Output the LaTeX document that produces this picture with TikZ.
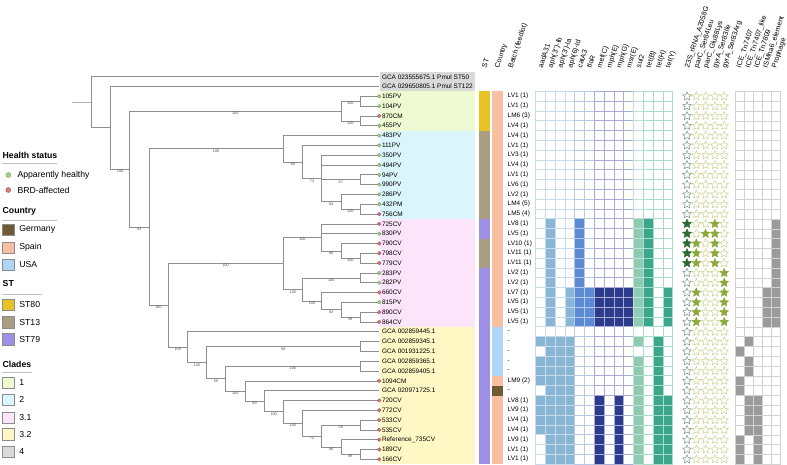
\documentclass[tikz,border=0pt]{standalone}
\usepackage{fontspec}
\setmainfont{Liberation Sans}
\usetikzlibrary{shapes.geometric}

% colours
\definecolor{branchgray}{HTML}{8E8E8E}
\definecolor{healthyfill}{HTML}{A9D18E}
\definecolor{healthyline}{HTML}{6E9E5C}
\definecolor{brdfill}{HTML}{D9797B}
\definecolor{brdline}{HTML}{A85458}
\definecolor{cladeone}{HTML}{EFFAD3}
\definecolor{cladetwo}{HTML}{DAF5FC}
\definecolor{cladethreeone}{HTML}{FCE4FA}
\definecolor{cladethreetwo}{HTML}{FFF8C5}
\definecolor{cladefour}{HTML}{DADADA}
\definecolor{germany}{HTML}{6E5A34}
\definecolor{spain}{HTML}{F9BFA2}
\definecolor{usa}{HTML}{AED6F6}
\definecolor{steighty}{HTML}{E8C325}
\definecolor{stthirteen}{HTML}{AA9D83}
\definecolor{stseventynine}{HTML}{9E90E6}
\definecolor{aphfill}{HTML}{8AB6D6}
\definecolor{aphline}{HTML}{C6DBEC}
\definecolor{catfill}{HTML}{5B8CD3}
\definecolor{catline}{HTML}{B7C9E8}
\definecolor{macfill}{HTML}{2C3B8B}
\definecolor{macline}{HTML}{A9ADD5}
\definecolor{sulfill}{HTML}{8ECBB2}
\definecolor{sulline}{HTML}{BEE3D5}
\definecolor{tetfill}{HTML}{3CA68B}
\definecolor{tetline}{HTML}{A8DCCB}
\definecolor{mutdark}{HTML}{2F6B30}
\definecolor{mutdarkline}{HTML}{6F8E7A}
\definecolor{mutfill}{HTML}{8CA93B}
\definecolor{mutline}{HTML}{C7D088}
\definecolor{mgefill}{HTML}{9B9B9B}
\definecolor{mgeline}{HTML}{D2D2D2}

% one colour per heatmap column
\colorlet{gene1}{aphfill}  \colorlet{line1}{aphline}
\colorlet{gene2}{aphfill}  \colorlet{line2}{aphline}
\colorlet{gene3}{aphfill}  \colorlet{line3}{aphline}
\colorlet{gene4}{aphfill}  \colorlet{line4}{aphline}
\colorlet{gene5}{catfill}  \colorlet{line5}{catline}
\colorlet{gene6}{catfill}  \colorlet{line6}{catline}
\colorlet{gene7}{macfill}  \colorlet{line7}{macline}
\colorlet{gene8}{macfill}  \colorlet{line8}{macline}
\colorlet{gene9}{macfill}  \colorlet{line9}{macline}
\colorlet{gene10}{macfill} \colorlet{line10}{macline}
\colorlet{gene11}{sulfill} \colorlet{line11}{sulline}
\colorlet{gene12}{tetfill} \colorlet{line12}{tetline}
\colorlet{gene13}{tetfill} \colorlet{line13}{tetline}
\colorlet{gene14}{tetfill} \colorlet{line14}{tetline}
\colorlet{mut1}{mutdark}   \colorlet{mutedge1}{mutdarkline}
\colorlet{mut2}{mutfill}   \colorlet{mutedge2}{mutline}
\colorlet{mut3}{mutfill}   \colorlet{mutedge3}{mutline}
\colorlet{mut4}{mutfill}   \colorlet{mutedge4}{mutline}
\colorlet{mut5}{mutfill}   \colorlet{mutedge5}{mutline}

\tikzset{
  branch/.style   = {draw = branchgray, line width = 0.6pt},
  rootstub/.style = {draw = black!30, line width = 1pt},
  boot/.style     = {anchor = north, inner sep = 0.6pt, text = black!70,
                     font = \fontsize{3.8}{4}\selectfont},
  tiplabel/.style = {anchor = west, inner sep = 0pt, font = \fontsize{6.45}{7}\selectfont},
  colhead/.style  = {rotate = 72, anchor = base west, inner sep = 0pt,
                     font = \fontsize{7.1}{8}\selectfont},
  healthy/.style  = {shape = circle, draw = healthyline, fill = healthyfill,
                     line width = 0.4pt, inner sep = 0pt, minimum size = 3.6pt},
  brd/.style      = {shape = circle, draw = brdline, fill = brdfill,
                     line width = 0.4pt, inner sep = 0pt, minimum size = 3.6pt},
  cell/.style     = {line width = 0.9pt},
  mutstar/.style  = {shape = star, star points = 5, star point ratio = 2.2,
                     minimum size = 9pt, inner sep = 0pt, line width = 0.45pt},
  legtitle/.style = {anchor = west, inner sep = 0pt, font = \bfseries\fontsize{8.7}{10}\selectfont},
  legtext/.style  = {anchor = west, inner sep = 0pt, font = \fontsize{8.7}{10}\selectfont},
  legbox/.style   = {draw = black!45, line width = 0.4pt, minimum size = 11.5pt, inner sep = 0pt},
  legrule/.style  = {draw = black!25, line width = 0.6pt},
}

\begin{document}
\begin{tikzpicture}[x = 1pt, y = -1pt,
    declare function = {ry(\i) = 76.7 + (\i - 1)*9.81;}]
  \useasboundingbox (0, 0) rectangle (787, 465);

  % ------------------------------------------------------------------------
  % Clade shading
  \foreach \a/\b/\c in {1/2/cladefour, 3/6/cladeone, 7/15/cladetwo,
                        16/26/cladethreeone, 27/40/cladethreetwo}
    \fill[\c] (380, {ry(\a) - 4.9}) rectangle (474.5, {ry(\b) + 4.9});

  % ------------------------------------------------------------------------
  % Tree
  \foreach \i in {1,...,40}
    \coordinate (t\i) at (379.2, {ry(\i)});

  \coordinate (stub) at ( 72.0, 102.24);
  \coordinate (r)    at ( 91.35, 102.24);
  \coordinate (n2)   at (110.5, 127.77);
  \coordinate (n3)   at (129.7, 169.03);
  \coordinate (c1)   at (340.8, 111.04);
  \coordinate (a1)   at (360.0, 101.23);
  \coordinate (a2)   at (360.0, 120.85);
  \coordinate (n4)   at (149.0, 227.01);
  \coordinate (c2)   at (283.25, 148.74);
  \coordinate (b5)   at (302.4, 161.93);
  \coordinate (b4)   at (321.6, 178.48);
  \coordinate (b1)   at (360.0, 179.71);
  \coordinate (b3)   at (340.8, 201.78);
  \coordinate (b2)   at (360.0, 209.14);
  \coordinate (n5)   at (168.1, 305.27);
  \coordinate (c31)  at (283.25, 263.40);
  \coordinate (d3)   at (321.6, 237.34);
  \coordinate (d2)   at (340.8, 250.83);
  \coordinate (d1)   at (360.0, 258.19);
  \coordinate (e5)   at (302.4, 289.46);
  \coordinate (e1)   at (360.0, 277.81);
  \coordinate (e4)   at (321.6, 301.11);
  \coordinate (e3)   at (340.8, 309.69);
  \coordinate (e2)   at (360.0, 317.05);
  \coordinate (f11)  at (187.3, 347.14);
  \coordinate (f10)  at (206.5, 362.51);
  \coordinate (g2)   at (360.0, 346.48);
  \coordinate (f9)   at (225.7, 378.55);
  \coordinate (g1)   at (360.0, 366.10);
  \coordinate (f8)   at (244.9, 391.00);
  \coordinate (f7)   at (264.1, 401.20);
  \coordinate (f6)   at (283.25, 411.77);
  \coordinate (f5)   at (302.4, 423.12);
  \coordinate (f4)   at (321.6, 435.99);
  \coordinate (f3)   at (360.0, 424.96);
  \coordinate (f2)   at (340.8, 447.03);
  \coordinate (f1)   at (360.0, 454.39);

  \draw[rootstub] (stub) -- (r);

  \foreach \p/\c in {r/t1, r/n2, n2/t2, a1/t3, a1/t4, a2/t5, a2/t6, c2/t7, b5/t8,
                     b4/t9, b4/t10, b1/t11, b1/t12, b3/t13, b2/t14, b2/t15,
                     d3/t16, d3/t17, d2/t18, d1/t19, d1/t20, e1/t21, e1/t22,
                     e4/t23, e3/t24, e2/t25, e2/t26, f11/t27, g2/t28, g2/t29,
                     g1/t30, g1/t31, f8/t32, f7/t33, f6/t34, f5/t35, f3/t36,
                     f3/t37, f2/t38, f1/t39, f1/t40}
    \draw[branch] (\p) |- (\c);

  \foreach \p/\c/\b in {n2/n3/100, n3/c1/100, n3/n4/83, c1/a1/100, c1/a2/100,
                        n4/c2/100, n4/n5/100, c2/b5/98, b5/b4/73, b4/b1/67,
                        b4/b3/84, b3/b2/100, n5/c31/100, n5/f11/100, c31/d3/100,
                        c31/e5/100, d3/d2/80, d2/d1/100, e5/e1/100, e5/e4/100,
                        e4/e3/92, e3/e2/98, f11/f10/100, f10/g2/56, f10/f9/56,
                        f9/g1/100, f9/f8/100, f8/f7/99, f7/f6/100, f6/f5/100,
                        f5/f4/72, f4/f3/58, f4/f2/96, f2/f1/98}
    \draw[branch] (\p) |- (\c) node[boot, pos = 0.75] {\b};

  % ------------------------------------------------------------------------
  % Tips
  \foreach \i/\lab in {1/GCA 023555675.1 Pmul ST50, 2/GCA 029650805.1 Pmul ST122,
      3/105PV, 4/104PV, 5/870CM, 6/455PV, 7/483PV, 8/111PV, 9/350PV, 10/494PV,
      11/94PV, 12/990PV, 13/286PV, 14/432PM, 15/756CM, 16/725CV, 17/830PV,
      18/790CV, 19/798CV, 20/779CV, 21/283PV, 22/282PV, 23/660CV, 24/815PV,
      25/890CV, 26/864CV, 27/GCA 002859445.1, 28/GCA 002859345.1,
      29/GCA 001931225.1, 30/GCA 002859365.1, 31/GCA 002859405.1, 32/1094CM,
      33/GCA 020971725.1, 34/720CV, 35/772CV, 36/533CV, 37/535CV,
      38/Reference\_735CV, 39/189CV, 40/166CV}
    \node[tiplabel] (tip\i) at (381.8, {ry(\i)}) {\lab};

  \foreach \i in {3,4,6,7,8,9,10,11,12,13,14,17,21,22,24}
    \node[healthy] (hs\i) at (t\i) {};
  \foreach \i in {5,15,16,18,19,20,23,25,26,32,34,35,36,37,38,39,40}
    \node[brd] (hs\i) at (t\i) {};

  % ------------------------------------------------------------------------
  % ST, country, batch
  \foreach \a/\b/\c in {3/6/steighty, 7/15/stthirteen, 16/17/stseventynine,
                        18/20/stthirteen, 21/40/stseventynine}
    \fill[\c] (479.3, {ry(\a) - 4.9}) rectangle (490.3, {ry(\b) + 4.9});

  \foreach \a/\b/\c in {3/26/spain, 27/31/usa, 32/32/spain, 33/33/germany, 34/40/spain}
    \fill[\c] (492.0, {ry(\a) - 4.9}) rectangle (503.0, {ry(\b) + 4.9});

  \foreach \i/\lab in {3/LV1 (1), 4/LV1 (1), 5/LM6 (3), 6/LV4 (1), 7/LV4 (1),
      8/LV1 (1), 9/LV3 (1), 10/LV4 (1), 11/LV1 (1), 12/LV6 (1), 13/LV2 (1),
      14/LM4 (5), 15/LM5 (4), 16/LV8 (1), 17/LV5 (1), 18/LV10 (1), 19/LV11 (1),
      20/LV11 (1), 21/LV2 (1), 22/LV2 (1), 23/LV7 (1), 24/LV5 (1), 25/LV5 (1),
      26/LV5 (1), 27/-, 28/-, 29/-, 30/-, 31/-, 32/LM9 (2), 33/-, 34/LV8 (1),
      35/LV9 (1), 36/LV4 (1), 37/LV4 (1), 38/LV9 (1), 39/LV1 (1), 40/LV1 (1)}
    \node[tiplabel] (batch\i) at (507.5, {ry(\i)}) {\lab};

  % ------------------------------------------------------------------------
  % Resistance genes
  \foreach \rows/\cols in {{16,...,22}/{2,5,11,12},
                           {23,...,26}/{2,4,5,...,12,14},
                           {28,30,31,32}/{1,2,3,4,11,13},
                           {29}/{2,3,4,13},
                           {33}/{2,3,4,11,13},
                           {34,...,37}/{1,2,3,4,7,9,11,13,14},
                           {38,39,40}/{2,3,4,7,9,11,13,14}}
    \foreach \i in \rows
      \foreach \j in \cols
        \fill[gene\j] ({535.7 + (\j - 1)*9.79}, {ry(\i) - 4.9}) rectangle ++(9.79, 9.81);

  \foreach \j in {1,...,14}
    \foreach \i in {3,...,40}
      \draw[cell, draw = line\j] ({535.7 + (\j - 1)*9.79}, {ry(\i) - 4.9}) rectangle ++(9.79, 9.81);

  % ------------------------------------------------------------------------
  % Point mutations
  \foreach \k in {1,...,5}
    \foreach \i in {3,...,40}
      \node[mutstar, draw = mutedge\k] (m\i-\k) at ({687 + (\k - 1)*9.3}, {ry(\i)}) {};

  \foreach \k/\rows in {1/{16,...,20}, 2/{18,19,20,23,24,25,26}, 3/{17},
                        4/{16,...,20}, 5/{21,...,26}}
    \foreach \i in \rows
      \node[mutstar, draw = mut\k, fill = mut\k] at (m\i-\k) {};

  % ------------------------------------------------------------------------
  % Mobile elements
  \foreach \m/\rows in {1/{29,32,33,38,39,40}, 2/{28,30,31,34,35,36,37},
                        3/{34,...,40}, 4/{23,...,26}, 5/{16,...,26}}
    \foreach \i in \rows
      \fill[mgefill] ({735.7 + (\m - 1)*8.86}, {ry(\i) - 4.9}) rectangle ++(8.86, 9.81);

  \foreach \m in {1,...,5}
    \foreach \i in {3,...,40}
      \draw[draw = mgeline, line width = 0.5pt] ({735.7 + (\m - 1)*8.86}, {ry(\i) - 4.9}) rectangle ++(8.86, 9.81);

  % ------------------------------------------------------------------------
  % Column headers
  \node[colhead] (hST) at (486.4, 68.5) {ST};
  \node[colhead] (hcountry) at (499.0, 68.5) {Country};
  \node[colhead] (hbatch) at (512.6, 68.5) {Batch (feedlot)};

  \foreach \lab [count = \j] in {aadA31, aph(3\textquotesingle\textquotesingle)-Ib,
      aph(3\textquotesingle)-Ia, aph(6)-Id, catA3, floR, mef(C), mph(E), mph(G),
      msr(E), sul2, tet(B), tet(H), tet(Y)}
    \node[colhead] (hg\j) at ({535.7 + (\j - 0.5)*9.79 + 2.0}, 68.5) {\lab};

  \foreach \lab [count = \k] in {23S\_rRNA\_A2058G, parC\_Ser84Leu, parC\_Glu88Lys,
      gyrA\_Ser83Ile, gyrA\_Ser83Arg}
    \node[colhead] (hm\k) at ({687 + (\k - 1)*9.3 + 2.0}, 68.5) {\lab};

  \foreach \lab [count = \m] in {ICE\_Tn7407, ICE\_Tn7407\_like, ICE\_Tn7809,
      ISMha6\_element, Prophage}
    \node[colhead] (he\m) at ({735.7 + (\m - 0.5)*8.86 + 0.6}, 68.5) {\lab};

  % ------------------------------------------------------------------------
  % Legend
  \node[legtitle] (lhealth) at (2.5, 155.7) {Health status};
  \draw[legrule] (1.5, 163.3) -- (56.7, 163.3);
  \node[healthy, minimum size = 5pt] (lhealthy) at (8.3, 175.0) {};
  \node[legtext] at (17.3, 175.0) {Apparently healthy};
  \node[brd, minimum size = 5pt] (lbrd) at (8.3, 190.0) {};
  \node[legtext] at (17.3, 190.0) {BRD-affected};

  \node[legtitle] (lcountry) at (2.5, 211.7) {Country};
  \draw[legrule] (1.5, 220.0) -- (56.7, 220.0);
  \foreach \y/\c/\lab in {229.8/germany/Germany, 247.5/spain/Spain, 264.8/usa/USA}
    \node[legbox, fill = \c, label = {[legtext, xshift = 5pt]right:\lab}] at (8.2, \y) {};

  \node[legtitle] (lst) at (2.5, 284.0) {ST};
  \draw[legrule] (1.5, 294.0) -- (41.7, 294.0);
  \foreach \y/\c/\lab in {304.8/steighty/ST80, 322.2/stthirteen/ST13, 339.2/stseventynine/ST79}
    \node[legbox, fill = \c, label = {[legtext, xshift = 5pt]right:\lab}] at (8.2, \y) {};

  \node[legtitle] (lclades) at (2.5, 364.0) {Clades};
  \draw[legrule] (1.5, 372.3) -- (31.7, 372.3);
  \foreach \y/\c/\lab in {382.5/cladeone/1, 399.8/cladetwo/2, 417.5/cladethreeone/3.1,
                          434.2/cladethreetwo/3.2, 451.8/cladefour/4}
    \node[legbox, fill = \c, label = {[legtext, xshift = 5pt]right:\lab}] at (8.2, \y) {};
\end{tikzpicture}
\end{document}
